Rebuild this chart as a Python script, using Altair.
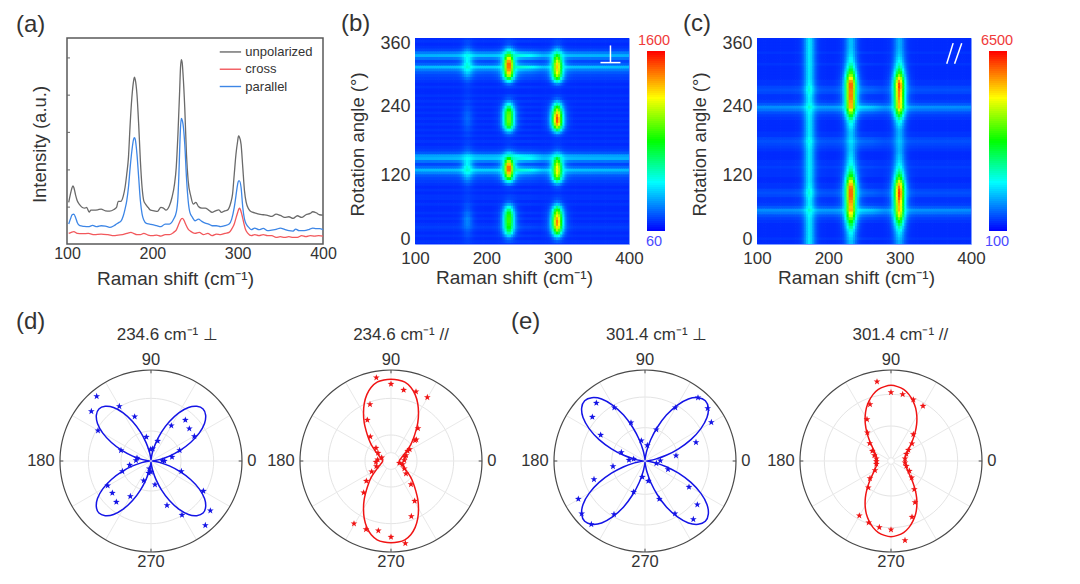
import math
import numpy as np
import pandas as pd
import altair as alt

alt.data_transformers.disable_max_rows()

FONT = "Liberation Sans"
TXT = "#333333"
STAR = "M0,-1L0.24,-0.33L0.95,-0.31L0.38,0.12L0.59,0.81L0,0.41L-0.59,0.81L-0.38,0.12L-0.95,-0.31L-0.24,-0.33Z"

# ---------- panel (a) spectra ----------
un_x = [102,104,106,107,108,110,112,115,118,121,123,126,128,132,136,140,145,150,155,158,160,163,166,168,170,172,174,176,178,179,180,182,184,186,188,190,192,195,198,202,206,210,213,216,220,223,226,228,230,232,233,234,235,236,238,240,242,245,248,251,254,258,262,266,270,274,278,281,285,288,292,294,296,298,300,301,302,304,306,308,310,313,316,320,325,330,335,340,345,350,355,360,365,370,375,380,385,388,392,396,400]
un_y = [125,150,170,175,170,148,130,118,110,108,110,96,102,102,103,105,100,99,104,110,128,128,145,170,210,260,360,440,490,502,495,450,360,250,170,130,120,110,102,100,98,110,108,102,115,140,180,230,330,460,530,555,545,510,410,270,190,145,120,125,113,108,108,102,95,100,103,95,100,102,125,150,210,270,310,325,322,300,230,160,125,105,97,94,90,88,86,83,90,86,80,82,77,85,80,88,92,97,94,88,87]
pa_x = [102,104,106,108,110,112,115,120,125,130,135,140,145,150,155,158,161,163,166,168,170,172,174,176,178,179,180,182,184,186,188,190,193,197,200,205,210,215,220,225,228,230,231,232,233,234,235,236,238,240,242,244,247,250,254,258,262,266,270,275,280,285,290,293,296,298,300,301,302,304,306,308,310,313,316,320,325,330,335,340,345,350,355,360,365,368,372,378,384,388,392,396,400]
pa_y = [60,75,88,90,80,65,55,53,52,56,52,55,54,50,55,60,65,68,85,105,130,170,230,280,315,320,315,270,200,130,90,72,62,60,58,55,52,60,60,75,95,140,200,280,350,378,373,360,300,200,130,95,80,70,75,68,63,60,55,55,52,55,60,75,110,145,180,190,190,170,110,75,60,50,43,48,43,47,40,42,44,48,44,40,39,45,40,40,44,48,46,46,43]
cr_x = [102,105,108,112,118,125,132,140,148,155,160,165,170,175,178,182,186,190,195,200,205,210,215,220,225,228,231,233,235,237,239,242,245,250,255,260,265,270,275,280,285,290,293,296,298,300,301,302,303,305,307,309,312,316,320,325,330,335,340,345,350,355,360,365,370,375,380,385,390,395,400]
cr_y = [32,35,37,32,31,32,28,30,28,25,27,28,32,35,32,28,28,32,27,25,27,24,28,28,35,42,60,72,77,72,60,45,38,32,35,28,32,25,30,28,32,35,45,60,78,95,103,108,105,88,65,45,32,25,28,25,28,25,25,20,22,20,22,20,20,25,22,25,24,25,24]
legend_names = ["unpolarized", "cross", "parallel"]
legend_colors = ["#6a6a6a", "#f2585c", "#3d86e6"]
legend_y = [578, 526, 474]
a_ticks = [111, 223, 336, 448, 560]

# ---------- panel (b) angular amplitudes, one value per 5 degrees, fraction of colour range ----------
b_234 = [.02,.05,.10,.22,.38,.48,.55,.58,.6,.6,.58,.52,.42,.3,.16,.07,.03,.02,.01,.01,.03,.12,.3,.55,.72,.88,.97,.97,.88,.72,.55,.35,.18,.07,.03,.02,.01,.02,.05,.15,.3,.5,.62,.65,.66,.65,.63,.55,.42,.28,.14,.06,.03,.01,.01,.03,.1,.28,.5,.72,.85,.93,.97,.98,.92,.78,.62,.42,.25,.12,.05,.03,.02]
b_301 = [.03,.06,.14,.3,.5,.68,.8,.88,.9,.85,.78,.68,.55,.38,.2,.09,.04,.02,.01,.02,.05,.15,.35,.55,.68,.75,.78,.76,.7,.6,.48,.3,.15,.06,.03,.02,.01,.02,.06,.2,.42,.68,.85,.94,.95,.9,.8,.68,.52,.35,.18,.07,.03,.01,.01,.03,.12,.32,.52,.68,.76,.8,.82,.8,.72,.62,.5,.35,.2,.1,.04,.03,.02]
b_178 = [.02,.02,.03,.04,.05,.06,.08,.1,.11,.11,.09,.08,.06,.05,.04,.03,.02,.02,.02,.02,.03,.05,.08,.12,.17,.24,.28,.29,.25,.22,.18,.13,.08,.05,.04,.03,.02,.02,.03,.03,.04,.05,.06,.07,.07,.07,.06,.05,.04,.03,.03,.02,.02,.02,.02,.02,.03,.05,.08,.13,.18,.24,.28,.29,.26,.24,.22,.15,.1,.06,.04,.03,.02]
b_str = [.0,.01,.0,.01,.0,.01,.02,.01,.0,.01,.0,.01,.0,.0,.01,.0,.01,.01,.0,.01,.0,.01,.02,.03,.05,.1,.16,.07,.03,.08,.15,.13,.05,.02,.01,.0,.01,.0,.01,.0,.01,.0,.01,.0,.01,.0,.01,.0,.01,.0,.01,.0,.01,.0,.0,.01,.0,.01,.02,.03,.05,.09,.16,.06,.03,.08,.15,.09,.03,.01,.0,.01,.0]
# ---------- panel (c) ----------
c_234 = [.2,.2,.22,.25,.28,.33,.4,.47,.55,.65,.75,.82,.9,.88,.9,.93,.96,.98,.98,.98,.95,.88,.78,.65,.55,.47,.4,.35,.3,.27,.25,.23,.22,.2,.2,.2,.22,.2,.2,.2,.22,.25,.28,.33,.42,.52,.65,.78,.9,.9,.92,.95,.96,.95,.96,.98,.98,.92,.82,.7,.6,.5,.42,.35,.3,.27,.24,.22,.21,.2,.2,.2,.2]
c_301 = [.17,.17,.19,.22,.25,.3,.36,.44,.52,.62,.72,.78,.84,.83,.85,.88,.93,.96,.97,.95,.9,.82,.72,.6,.5,.42,.36,.3,.26,.23,.21,.2,.18,.17,.17,.17,.18,.17,.17,.17,.18,.21,.25,.3,.38,.48,.6,.72,.84,.83,.85,.88,.9,.9,.92,.96,.95,.88,.78,.66,.55,.46,.38,.32,.27,.24,.21,.19,.18,.17,.17,.17,.17]
c_178 = [.24,.24,.24,.24,.24,.24,.24,.24,.24,.24,.25,.26,.3,.27,.25,.25,.26,.28,.3,.29,.26,.25,.24,.24,.24,.24,.24,.24,.24,.24,.24,.24,.24,.24,.25,.26,.28,.26,.24,.24,.24,.24,.24,.24,.24,.24,.25,.26,.3,.27,.25,.25,.26,.28,.3,.29,.26,.25,.24,.24,.24,.24,.24,.24,.24,.24,.24,.24,.24,.24,.24,.24,.24]
c_str = [.0,.0,.01,.0,.0,.0,.0,.0,.01,.02,.04,.08,.11,.05,.02,.01,.01,.03,.04,.03,.01,.01,.0,.0,.01,.01,.01,.02,.01,.01,.0,.0,.0,.01,.02,.03,.04,.03,.01,.01,.0,.0,.0,.0,.01,.02,.04,.08,.11,.05,.02,.01,.01,.03,.04,.03,.01,.01,.0,.0,.0,.0,.0,.01,.0,.0,.0,.01,.0,.0,.0,.0,.0]
peak_off = [0,3,6,9,12,15,18,21,24,27]
peak_wt = [1,.82,.5,.24,.1,.04,.02,.01,.0,0]
str_x = [100,165,180,225,240,262,280,320,400]
str_w = [.95,1,1.1,1.1,1.7,1.5,1,1,.95]
COL_STOPS = [0,.27,.5,.74,1]
COL_RANGE = ["#0000ff","#00ffff","#00ff00","#ffff00","#ff0000"]

# ---------- polar panels: measured stars (x,y) and fitted curve radius per quadrant ----------
d1_x = [-163,-179,-95,-49,-159,-14,-90,-42,-45,-64,-86,-130,-116,-104,-62,-22,-7,-5,0,12,48,93,163,178,157,91,63,40,34,86,130,115,103,61,20,5,-1]
d1_y = [194,149,164,133,91,72,32,9,2,-12,-31,-74,-96,-123,-106,-59,-36,-23,-33,-71,-133,-162,-193,-149,-90,-31,12,0,1,32,74,97,123,106,60,37,35]
d2_x = [-44,0,38,75,109,-63,-71,-62,81,76,72,56,-45,-39,-28,-40,-45,-44,-58,-74,-82,-111,-75,-38,0,43,61,71,60,45,40,35,25,40,42,45,50]
d2_y = [250,231,213,208,191,170,123,73,98,64,62,35,39,24,10,4,-3,-16,-32,-60,-95,-188,-205,-209,-228,-247,-166,-120,-70,-38,-23,-10,-6,2,12,17,30]
e1_x = [159,188,199,153,93,46,34,69,132,157,145,90,43,10,-8,-34,-93,-161,-190,-200,-153,-96,-48,-34,-71,-133,-158,-146,-92,-42,-11,7,34,91]
e1_y = [190,158,116,56,16,1,-7,-25,-78,-131,-175,-158,-114,-60,-48,-93,-160,-190,-158,-114,-55,-16,3,6,26,78,132,174,160,115,61,47,94,160]
e2_x = [-42,0,35,67,96,-63,-72,-71,-64,-56,-50,-44,-44,-44,-48,-63,-68,-95,-67,-35,0,42,63,72,70,62,55,46,42,42,46,52,63,67]
e2_y = [238,206,200,184,165,170,125,85,53,30,17,7,-1,-9,-28,-52,-80,-164,-185,-199,-206,-238,-168,-124,-85,-50,-30,-15,-5,7,21,33,52,80]
fit_ang = [0,5,10,15,20,25,30,35,40,45,50,55,60,65,70,75,80,85,90]
d1_fit = [4,9,28,57,93,131,167,196,214,221,214,196,167,131,93,57,28,9,4]
d2_fit = [25,26,28,31,35,41,50,62,78,95,115,140,165,190,212,229,240,244,245]
e1_fit = [4,10,32,66,107,152,193,227,248,256,248,227,193,152,107,66,32,10,4]
e2_fit = [42,42,43,45,47,52,58,66,78,94,113,134,155,175,192,207,218,224,227]
titles = ["234.6 cm\u207b\u00b9  \u22a5", "234.6 cm\u207b\u00b9 //", "301.4 cm\u207b\u00b9  \u22a5", "301.4 cm\u207b\u00b9 //"]
title_dx = [49, 30, 35, 28]
ring_sets = [[90,188],[78,188],[100,192],[105,200]]
hole = [6,25,6,10]
angle_labels = ["0","90","180","270"]
RMAX = 273


def spacer(w, h=1):
    return alt.Chart(pd.DataFrame({"v":[0]})).mark_point(opacity=0).encode(x=alt.value(0)).properties(
        width=w, height=h, view=alt.ViewBackground(stroke=None))


def label(txt, px, py):
    return alt.Chart(pd.DataFrame({"t":[txt]})).mark_text(font=FONT, fontSize=24, color=TXT, align="left", baseline="middle").encode(
        text="t:N", x=alt.value(px), y=alt.value(py))


# ---------- panel (a) ----------
xa = alt.Scale(domain=[100,400], nice=False)
ya = alt.Scale(domain=[0,620], nice=False)
spec = pd.concat([
    pd.DataFrame({"x":un_x,"y":un_y,"s":"unpolarized"}),
    pd.DataFrame({"x":cr_x,"y":cr_y,"s":"cross"}),
    pd.DataFrame({"x":pa_x,"y":pa_y,"s":"parallel"})])
color_a = alt.Color("s:N", scale=alt.Scale(domain=legend_names, range=legend_colors), legend=None)
xa_ax = alt.Axis(values=[100,200,300,400], format="d", grid=False, ticks=False, domain=False,
        labelFontSize=16, labelPadding=1, labelColor=TXT, labelFont=FONT, labelFlush=False, labelOverlap=False,
        title="Raman  shift (cm\u207b\u00b9)", titleFontSize=19, titleFont=FONT, titleColor=TXT, titleFontWeight="normal", titlePadding=8, titleX=108)
ya_ax = alt.Axis(values=a_ticks, labels=False, ticks=False, domain=False, grid=False,
        title="Intensity (a.u.)", titleFontSize=18.5, titleFont=FONT, titleColor=TXT, titleFontWeight="normal", titlePadding=18, titleY=106)
lines = alt.Chart(spec).mark_line(strokeWidth=1.3, interpolate="monotone").encode(
    x=alt.X("x:Q", scale=xa, axis=xa_ax),
    y=alt.Y("y:Q", scale=ya, axis=ya_ax),
    color=color_a, detail="s:N")
a_tick_rules = alt.Chart(pd.DataFrame({"y":a_ticks})).mark_rule(color="#666666", strokeWidth=1).encode(
    x=alt.value(0), x2=alt.value(3), y=alt.Y("y:Q", scale=ya, axis=ya_ax))
leg = pd.DataFrame({"x":[279]*3,"x2":[304]*3,"tx":[309]*3,"y":legend_y,"s":legend_names})
leg_rule = alt.Chart(leg).mark_rule(strokeWidth=1.4).encode(
    x=alt.X("x:Q", scale=xa, axis=xa_ax), x2="x2:Q", y=alt.Y("y:Q", scale=ya, axis=ya_ax), color=color_a)
leg_text = alt.Chart(leg).mark_text(font=FONT, fontSize=13, color=TXT, align="left", baseline="middle").encode(
    x=alt.X("tx:Q", scale=xa, axis=xa_ax), y=alt.Y("y:Q", scale=ya, axis=ya_ax), text="s:N")
panel_a = alt.layer(lines, a_tick_rules, leg_rule, leg_text, label("(a)", -51, -13)).properties(
    width=256, height=206, view=alt.ViewBackground(stroke="#5a5a5a", strokeWidth=1.5))


# ---------- heat maps ----------
def heat(a234, a301, a178, astr, lo, hi, overlay, letter, lpos, lab_x):
    xs = 100 + 1.5 + 3*np.arange(100)
    angs = 5*np.arange(len(a234))
    rows = []
    ws = np.interp(xs, str_x, str_w)
    p234 = np.interp(np.abs(xs-232), peak_off, peak_wt)
    p301 = np.interp(np.abs(xs-300), peak_off, peak_wt)
    p178 = np.interp(np.abs(xs-174), peak_off, peak_wt)
    for i, a in enumerate(angs):
        pk = a234[i]*p234 + a301[i]*p301 + a178[i]*p178
        f = pk + (.045 + astr[i]*ws)*(1-np.clip(pk*3, 0, 1))
        z = lo + np.clip(f, 0, 1)*(hi-lo)
        rows.append(pd.DataFrame({"x":xs, "a":a, "z":np.round(z,0)}))
    df = pd.concat(rows)
    xsc = alt.Scale(domain=[100,400], nice=False)
    ysc = alt.Scale(domain=[0,360], nice=False)
    col = alt.Scale(domain=[lo+s*(hi-lo) for s in COL_STOPS], range=COL_RANGE, interpolate="rgb")
    x_ax = alt.Axis(values=[100,200,300,400], format="d", grid=False, ticks=False, domain=False,
            labelFontSize=17, labelPadding=6, labelColor=TXT, labelFont=FONT, labelFlush=False, labelOverlap=False,
            title="Raman  shift (cm\u207b\u00b9)", titleFontSize=19, titleFont=FONT, titleColor=TXT, titleFontWeight="normal", titlePadding=2, titleX=99)
    y_ax = alt.Axis(values=[0,120,240,360], format="d", grid=False, ticks=False, domain=False,
            labelFontSize=18, labelPadding=5, labelColor=TXT, labelFont=FONT, labelFlush=True, labelFlushOffset=4, labelOverlap=False,
            title="Rotation angle (\u00b0)", titleFontSize=18.5, titleFont=FONT, titleColor=TXT, titleFontWeight="normal", titlePadding=12, titleY=106)
    rect = alt.Chart(df).mark_rect(width=2.9, height=3.6, clip=True).encode(
        x=alt.X("x:Q", scale=xsc, axis=x_ax),
        y=alt.Y("a:Q", scale=ysc, axis=y_ax),
        color=alt.Color("z:Q", scale=col, legend=None))
    ov = alt.Chart(pd.DataFrame(overlay)).mark_rule(color="white", strokeWidth=1.5).encode(
        x=alt.X("x:Q", scale=xsc, axis=x_ax), x2="x2:Q", y=alt.Y("y:Q", scale=ysc, axis=y_ax), y2="y2:Q")
    main = alt.layer(rect, ov, label(letter, *lpos)).properties(
        width=214, height=206, view=alt.ViewBackground(stroke="#7f9cff", strokeWidth=1))
    # colour bar
    steps = np.linspace(lo, hi, 91)
    cb = pd.DataFrame({"y":steps[:-1], "y2":steps[1:]+(hi-lo)/200, "z":(steps[:-1]+steps[1:])/2})
    cb["y2"] = cb["y2"].clip(upper=hi)
    ext = 13/180*(hi-lo)
    ycb = alt.Scale(domain=[lo-ext, hi+ext], nice=False, zero=False)
    bar = alt.Chart(cb).mark_rect().encode(
        x=alt.value(0), x2=alt.value(18), y=alt.Y("y:Q", scale=ycb, axis=None), y2="y2:Q",
        color=alt.Color("z:Q", scale=col, legend=None))
    top = alt.Chart(pd.DataFrame({"t":[str(hi)]})).mark_text(font=FONT, fontSize=14.5, color="#f03a3a", align="center", baseline="middle").encode(
        text="t:N", x=alt.value(lab_x), y=alt.value(3))
    bot = alt.Chart(pd.DataFrame({"t":[str(lo)]})).mark_text(font=FONT, fontSize=14.5, color="#4a4aff", align="center", baseline="middle").encode(
        text="t:N", x=alt.value(lab_x), y=alt.value(204))
    cbar = alt.layer(bar, top, bot).properties(width=18, height=206, view=alt.ViewBackground(stroke=None))
    return main, cbar


ov_b = {"x":[374,360],"x2":[374,388],"y":[317,317],"y2":[347,317]}
ov_c = {"x":[366,377],"x2":[375,387],"y":[315,315],"y2":[351,351]}
panel_b, cb_b = heat(b_234, b_301, b_178, b_str, 60, 1600, ov_b, "(b)", (-74,-14), 7)
panel_c, cb_c = heat(c_234, c_301, c_178, c_str, 100, 6500, ov_c, "(c)", (-74,-14), 8)


# ---------- polar panels ----------
def fold(ang, r):
    th = list(ang) + [180-a for a in ang[-2::-1]]
    rr = list(r) + list(r[-2::-1])
    th2 = th + [180+a for a in th[1:-1]]
    rr2 = rr + rr[1:-1]
    return th2, rr2


def polar(sx, sy, fit, color, idx, letter=None):
    sc = alt.Scale(domain=[-RMAX,RMAX], nice=False, zero=False)
    xe = alt.X("x:Q", scale=sc, axis=None)
    ye = alt.Y("y:Q", scale=sc, axis=None)
    full = list(range(0,361,5))
    ring_rows = []
    for k, R in enumerate(ring_sets[idx] + [hole[idx]]):
        for t in full:
            ring_rows.append({"x":R*math.cos(math.radians(t)),"y":R*math.sin(math.radians(t)),"k":k,"i":t})
    rings = alt.Chart(pd.DataFrame(ring_rows)).mark_line(color="#e4e4e4", strokeWidth=1).encode(x=xe, y=ye, detail="k:N", order="i:Q")
    sp = [{"x":hole[idx]*math.cos(math.radians(t)),"y":hole[idx]*math.sin(math.radians(t)),
           "x2":RMAX*math.cos(math.radians(t)),"y2":RMAX*math.sin(math.radians(t))} for t in range(0,360,30)]
    spokes = alt.Chart(pd.DataFrame(sp)).mark_rule(color="#e9e9e9", strokeWidth=1).encode(x=xe, y=ye, x2="x2:Q", y2="y2:Q")
    out = alt.Chart(pd.DataFrame([{"x":RMAX*math.cos(math.radians(t)),"y":RMAX*math.sin(math.radians(t)),"i":t} for t in full])).mark_line(
        color="#4a4a4a", strokeWidth=1.2, interpolate="cardinal-closed").encode(x=xe, y=ye, order="i:Q")
    tk = [{"x":(RMAX-10)*math.cos(math.radians(t)),"y":(RMAX-10)*math.sin(math.radians(t)),
           "x2":RMAX*math.cos(math.radians(t)),"y2":RMAX*math.sin(math.radians(t))} for t in range(0,360,90)]
    ticks = alt.Chart(pd.DataFrame(tk)).mark_rule(color="#4a4a4a", strokeWidth=1).encode(x=xe, y=ye, x2="x2:Q", y2="y2:Q")
    th, rr = fold(fit_ang, fit)
    curve_df = pd.DataFrame({"x":[r*math.cos(math.radians(t)) for t, r in zip(th, rr)],
                             "y":[r*math.sin(math.radians(t)) for t, r in zip(th, rr)],
                             "i":list(range(len(th)))})
    curve = alt.Chart(curve_df).mark_line(color=color, strokeWidth=1.5, interpolate="cardinal-closed").encode(x=xe, y=ye, order="i:Q")
    stars = alt.Chart(pd.DataFrame({"x":sx,"y":sy})).mark_point(shape=STAR, filled=True, size=50, opacity=1, color=color).encode(x=xe, y=ye)
    lab_df = pd.DataFrame({"t":angle_labels,"x":[RMAX+16,0,-RMAX-16,0],"y":[0,303,0,-303],"al":["l","c","r","c"]})
    labs = []
    for al, nm in [("l","left"),("c","center"),("r","right")]:
        labs.append(alt.Chart(lab_df[lab_df.al==al]).mark_text(font=FONT, fontSize=16.5, color=TXT, align=nm, baseline="middle").encode(x=xe, y=ye, text="t:N"))
    ttl = alt.Chart(pd.DataFrame({"t":[titles[idx]],"x":[title_dx[idx]],"y":[378]})).mark_text(font=FONT, fontSize=17, color=TXT, align="center", baseline="middle").encode(x=xe, y=ye, text="t:N")
    layers = [rings, spokes, out, ticks, curve, stars] + labs + [ttl]
    if letter:
        layers.append(label(*letter))
    return alt.layer(*layers).properties(width=182, height=182, view=alt.ViewBackground(stroke=None))


BLUE = "#1414e6"
RED = "#f01414"
d1 = polar(d1_x, d1_y, d1_fit, BLUE, 0, ("(d)", -44, -48))
d2 = polar(d2_x, d2_y, d2_fit, RED, 1)
e1 = polar(e1_x, e1_y, e1_fit, BLUE, 2, ("(e)", -43, -48))
e2 = polar(e2_x, e2_y, e2_fit, RED, 3)

row1 = alt.hconcat(spacer(7), panel_a, spacer(92), panel_b, spacer(18), cb_b, spacer(92), panel_c, spacer(18), cb_c,
                   spacing=0, bounds="flush")
row2 = alt.hconcat(d1, spacer(58), d2, spacer(72), e1, spacer(64), e2, spacing=0, bounds="flush")

chart = alt.vconcat(row1, row2, spacing=21).properties(
    padding={"left":7,"top":3,"right":0,"bottom":0},
    background="white").configure_view(stroke=None).configure(font=FONT)

chart.save("out.html", embed_options={"renderer": "svg", "actions": False})
